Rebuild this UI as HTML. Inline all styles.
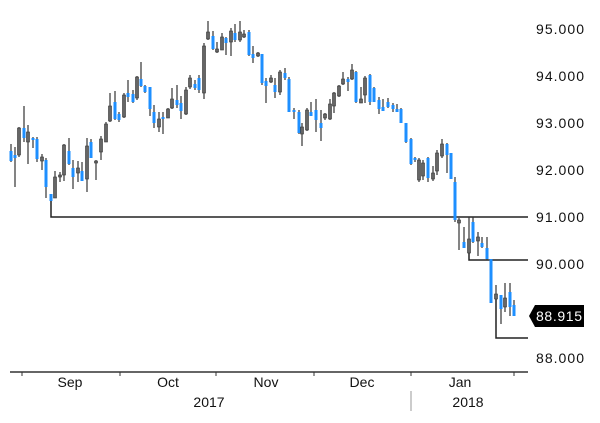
<!DOCTYPE html>
<html><head><style>
html,body{margin:0;padding:0;background:#fff;}
svg{display:block;font-family:"Liberation Sans",sans-serif;}
.w line{stroke:#333;stroke-width:1.2}
.g{fill:#666;stroke:#333;stroke-width:0.6}
.b{fill:#1e8fff}
</style></head><body>
<svg width="600" height="423" viewBox="0 0 600 423">
<g stroke="#222" stroke-width="1.5" fill="none">
<polyline points="51,201 51,217 528,217"/>
<polyline points="469,253 469,260 528,260"/>
<polyline points="496,299 496,338 528,338"/>
</g>
<g class="w">
<line x1="11" x2="11" y1="144" y2="162"/><rect class="b" x="9.5" y="151" width="3" height="10"/>
<line x1="15" x2="15" y1="147" y2="187"/><rect class="b" x="13.5" y="155" width="3" height="3"/>
<line x1="19" x2="19" y1="127" y2="157"/><rect class="g" x="17.5" y="128" width="3" height="27"/>
<line x1="24" x2="24" y1="106" y2="142"/><rect class="b" x="22.5" y="128" width="3" height="10"/>
<line x1="28" x2="28" y1="125" y2="164"/><rect class="g" x="26.5" y="132" width="3" height="10"/>
<line x1="33" x2="33" y1="137" y2="148"/><rect class="b" x="31.5" y="138" width="3" height="2"/>
<line x1="37" x2="37" y1="137" y2="162"/><rect class="b" x="35.5" y="139" width="3" height="20"/>
<line x1="42" x2="42" y1="154" y2="170"/><rect class="g" x="40.5" y="157" width="3" height="4"/>
<line x1="46" x2="46" y1="158" y2="198"/><rect class="b" x="44.5" y="160" width="3" height="27"/>
<line x1="51" x2="51" y1="194" y2="201"/><rect class="b" x="49.5" y="194" width="3" height="7"/>
<line x1="55" x2="55" y1="171" y2="198"/><rect class="g" x="53.5" y="177" width="3" height="21"/>
<line x1="60" x2="60" y1="172" y2="182"/><rect class="g" x="58.5" y="175" width="3" height="2"/>
<line x1="64" x2="64" y1="144" y2="181"/><rect class="g" x="62.5" y="145" width="3" height="30"/>
<line x1="69" x2="69" y1="138" y2="165"/><rect class="b" x="67.5" y="151" width="3" height="13"/>
<line x1="73" x2="73" y1="160" y2="189"/><rect class="b" x="71.5" y="168" width="3" height="9"/>
<line x1="78" x2="78" y1="161" y2="182"/><rect class="g" x="76.5" y="168" width="3" height="5"/>
<line x1="82" x2="82" y1="162" y2="181"/><rect class="b" x="80.5" y="171" width="3" height="10"/>
<line x1="87" x2="87" y1="138" y2="192"/><rect class="g" x="85.5" y="146" width="3" height="33"/>
<line x1="91" x2="91" y1="139" y2="158"/><rect class="b" x="89.5" y="142" width="3" height="16"/>
<line x1="96" x2="96" y1="160" y2="180"/><rect class="g" x="94.5" y="161" width="3" height="2"/>
<line x1="101" x2="101" y1="136" y2="160"/><rect class="g" x="99.5" y="139" width="3" height="13"/>
<line x1="106" x2="106" y1="122" y2="142"/><rect class="g" x="104.5" y="124" width="3" height="18"/>
<line x1="110" x2="110" y1="93" y2="122"/><rect class="g" x="108.5" y="106" width="3" height="15"/>
<line x1="115" x2="115" y1="91" y2="120"/><rect class="b" x="113.5" y="102" width="3" height="17"/>
<line x1="119" x2="119" y1="112" y2="122"/><rect class="b" x="117.5" y="114" width="3" height="6"/>
<line x1="124" x2="124" y1="93" y2="118"/><rect class="g" x="122.5" y="95" width="3" height="22"/>
<line x1="128" x2="128" y1="80" y2="102"/><rect class="b" x="126.5" y="93" width="3" height="4"/>
<line x1="133" x2="133" y1="90" y2="103"/><rect class="b" x="131.5" y="94" width="3" height="8"/>
<line x1="137" x2="137" y1="76" y2="100"/><rect class="g" x="135.5" y="77" width="3" height="21"/>
<line x1="141" x2="141" y1="62" y2="87"/><rect class="b" x="139.5" y="79" width="3" height="7"/>
<line x1="145" x2="145" y1="85" y2="93"/><rect class="b" x="143.5" y="86" width="3" height="6"/>
<line x1="150" x2="150" y1="87" y2="116"/><rect class="b" x="148.5" y="87" width="3" height="22"/>
<line x1="154" x2="154" y1="105" y2="128"/><rect class="b" x="152.5" y="112" width="3" height="11"/>
<line x1="159" x2="159" y1="112" y2="132"/><rect class="g" x="157.5" y="119" width="3" height="8"/>
<line x1="163" x2="163" y1="112" y2="134"/><rect class="b" x="161.5" y="117" width="3" height="2"/>
<line x1="168" x2="168" y1="108" y2="118"/><rect class="g" x="166.5" y="109" width="3" height="9"/>
<line x1="172" x2="172" y1="88" y2="109"/><rect class="g" x="170.5" y="99" width="3" height="9"/>
<line x1="177" x2="177" y1="85" y2="108"/><rect class="b" x="175.5" y="100" width="3" height="5"/>
<line x1="181" x2="181" y1="96" y2="119"/><rect class="b" x="179.5" y="103" width="3" height="8"/>
<line x1="186" x2="186" y1="87" y2="115"/><rect class="g" x="184.5" y="90" width="3" height="24"/>
<line x1="190" x2="190" y1="75" y2="89"/><rect class="g" x="188.5" y="78" width="3" height="9"/>
<line x1="195" x2="195" y1="80" y2="90"/><rect class="b" x="193.5" y="84" width="3" height="4"/>
<line x1="199" x2="199" y1="75" y2="93"/><rect class="b" x="197.5" y="78" width="3" height="12"/>
<line x1="204" x2="204" y1="43" y2="99"/><rect class="g" x="202.5" y="46" width="3" height="47"/>
<line x1="208" x2="208" y1="21" y2="40"/><rect class="g" x="206.5" y="32" width="3" height="7"/>
<line x1="213" x2="213" y1="31" y2="50"/><rect class="b" x="211.5" y="36" width="3" height="13"/>
<line x1="217" x2="217" y1="42" y2="53"/><rect class="g" x="215.5" y="49" width="3" height="3"/>
<line x1="222" x2="222" y1="33" y2="50"/><rect class="g" x="220.5" y="37" width="3" height="13"/>
<line x1="226" x2="226" y1="37" y2="55"/><rect class="b" x="224.5" y="38" width="3" height="5"/>
<line x1="231" x2="231" y1="28" y2="56"/><rect class="g" x="229.5" y="31" width="3" height="11"/>
<line x1="235" x2="235" y1="24" y2="42"/><rect class="b" x="233.5" y="33" width="3" height="7"/>
<line x1="240" x2="240" y1="21" y2="42"/><rect class="g" x="238.5" y="32" width="3" height="8"/>
<line x1="244" x2="244" y1="30" y2="38"/><rect class="g" x="242.5" y="34" width="3" height="3"/>
<line x1="249" x2="249" y1="30" y2="56"/><rect class="b" x="247.5" y="32" width="3" height="23"/>
<line x1="253" x2="253" y1="46" y2="63"/><rect class="b" x="251.5" y="54" width="3" height="4"/>
<line x1="258" x2="258" y1="52" y2="57"/><rect class="g" x="256.5" y="53" width="3" height="3"/>
<line x1="262" x2="262" y1="54" y2="85"/><rect class="b" x="260.5" y="54" width="3" height="29"/>
<line x1="266" x2="266" y1="78" y2="103"/><rect class="b" x="264.5" y="81" width="3" height="5"/>
<line x1="271" x2="271" y1="75" y2="83"/><rect class="g" x="269.5" y="78" width="3" height="4"/>
<line x1="275" x2="275" y1="78" y2="98"/><rect class="b" x="273.5" y="85" width="3" height="7"/>
<line x1="280" x2="280" y1="70" y2="95"/><rect class="g" x="278.5" y="72" width="3" height="20"/>
<line x1="285" x2="285" y1="68" y2="80"/><rect class="b" x="283.5" y="73" width="3" height="5"/>
<line x1="289" x2="289" y1="77" y2="112"/><rect class="b" x="287.5" y="79" width="3" height="33"/>
<line x1="294" x2="294" y1="108" y2="119"/><rect class="b" x="292.5" y="110" width="3" height="2"/>
<line x1="299" x2="299" y1="110" y2="134"/><rect class="b" x="297.5" y="112" width="3" height="21"/>
<line x1="302" x2="302" y1="123" y2="146"/><rect class="g" x="300.5" y="127" width="3" height="7"/>
<line x1="307" x2="307" y1="108" y2="131"/><rect class="g" x="305.5" y="110" width="3" height="20"/>
<line x1="311" x2="311" y1="102" y2="115"/><rect class="b" x="309.5" y="112" width="3" height="4"/>
<line x1="316" x2="316" y1="99" y2="132"/><rect class="b" x="314.5" y="110" width="3" height="10"/>
<line x1="321" x2="321" y1="110" y2="141"/><rect class="b" x="319.5" y="123" width="3" height="5"/>
<line x1="325" x2="325" y1="113" y2="120"/><rect class="g" x="323.5" y="114" width="3" height="4"/>
<line x1="330" x2="330" y1="99" y2="120"/><rect class="g" x="328.5" y="104" width="3" height="15"/>
<line x1="334" x2="334" y1="92" y2="113"/><rect class="g" x="332.5" y="93" width="3" height="13"/>
<line x1="339" x2="339" y1="85" y2="97"/><rect class="g" x="337.5" y="86" width="3" height="10"/>
<line x1="343" x2="343" y1="72" y2="85"/><rect class="g" x="341.5" y="79" width="3" height="5"/>
<line x1="348" x2="348" y1="77" y2="91"/><rect class="b" x="346.5" y="79" width="3" height="3"/>
<line x1="352" x2="352" y1="64" y2="80"/><rect class="g" x="350.5" y="70" width="3" height="9"/>
<line x1="356" x2="356" y1="71" y2="103"/><rect class="b" x="354.5" y="72" width="3" height="30"/>
<line x1="361" x2="361" y1="87" y2="103"/><rect class="g" x="359.5" y="99" width="3" height="4"/>
<line x1="365" x2="365" y1="76" y2="103"/><rect class="g" x="363.5" y="78" width="3" height="17"/>
<line x1="370" x2="370" y1="74" y2="105"/><rect class="b" x="368.5" y="75" width="3" height="27"/>
<line x1="374" x2="374" y1="87" y2="102"/><rect class="b" x="372.5" y="88" width="3" height="14"/>
<line x1="379" x2="379" y1="97" y2="114"/><rect class="b" x="377.5" y="100" width="3" height="9"/>
<line x1="383" x2="383" y1="99" y2="111"/><rect class="b" x="381.5" y="107" width="3" height="4"/>
<line x1="388" x2="388" y1="98" y2="108"/><rect class="b" x="386.5" y="102" width="3" height="5"/>
<line x1="393" x2="393" y1="103" y2="112"/><rect class="b" x="391.5" y="105" width="3" height="4"/>
<line x1="397" x2="397" y1="104" y2="112"/><rect class="b" x="395.5" y="109" width="3" height="3"/>
<line x1="401" x2="401" y1="108" y2="123"/><rect class="b" x="399.5" y="109" width="3" height="14"/>
<line x1="406" x2="406" y1="123" y2="143"/><rect class="b" x="404.5" y="123" width="3" height="19"/>
<line x1="411" x2="411" y1="138" y2="165"/><rect class="b" x="409.5" y="139" width="3" height="25"/>
<line x1="415" x2="415" y1="157" y2="162"/><rect class="b" x="413.5" y="158" width="3" height="2"/>
<line x1="419" x2="419" y1="158" y2="182"/><rect class="g" x="417.5" y="160" width="3" height="20"/>
<line x1="423" x2="423" y1="160" y2="180"/><rect class="g" x="421.5" y="163" width="3" height="13"/>
<line x1="428" x2="428" y1="157" y2="182"/><rect class="b" x="426.5" y="158" width="3" height="20"/>
<line x1="433" x2="433" y1="166" y2="181"/><rect class="g" x="431.5" y="173" width="3" height="6"/>
<line x1="437" x2="437" y1="150" y2="175"/><rect class="g" x="435.5" y="153" width="3" height="18"/>
<line x1="442" x2="442" y1="139" y2="158"/><rect class="g" x="440.5" y="144" width="3" height="12"/>
<line x1="447" x2="447" y1="143" y2="173"/><rect class="b" x="445.5" y="144" width="3" height="11"/>
<line x1="451" x2="451" y1="153" y2="179"/><rect class="b" x="449.5" y="153" width="3" height="26"/>
<line x1="455" x2="455" y1="177" y2="222"/><rect class="b" x="453.5" y="182" width="3" height="38"/>
<line x1="459" x2="459" y1="218" y2="250"/><rect class="g" x="457.5" y="220" width="3" height="3"/>
<line x1="464" x2="464" y1="227" y2="248"/><rect class="b" x="462.5" y="242" width="3" height="6"/>
<line x1="469" x2="469" y1="217" y2="259"/><rect class="g" x="467.5" y="239" width="3" height="14"/>
<line x1="473" x2="473" y1="217" y2="243"/><rect class="b" x="471.5" y="222" width="3" height="20"/>
<line x1="478" x2="478" y1="232" y2="256"/><rect class="g" x="476.5" y="237" width="3" height="4"/>
<line x1="482" x2="482" y1="237" y2="248"/><rect class="b" x="480.5" y="243" width="3" height="4"/>
<line x1="487" x2="487" y1="237" y2="260"/><rect class="b" x="485.5" y="248" width="3" height="11"/>
<line x1="491" x2="491" y1="259" y2="303"/><rect class="b" x="489.5" y="259" width="3" height="44"/>
<line x1="496" x2="496" y1="285" y2="328"/><rect class="g" x="494.5" y="294" width="3" height="5"/>
<line x1="501" x2="501" y1="295" y2="324"/><rect class="b" x="499.5" y="295" width="3" height="14"/>
<line x1="505" x2="505" y1="283" y2="312"/><rect class="g" x="503.5" y="298" width="3" height="9"/>
<line x1="510" x2="510" y1="283" y2="316"/><rect class="b" x="508.5" y="292" width="3" height="15"/>
<line x1="514" x2="514" y1="300" y2="316"/><rect class="b" x="512.5" y="305" width="3" height="11"/>
</g>
<line x1="10" y1="372" x2="528" y2="372" stroke="#333" stroke-width="1.5"/>
<g stroke="#333" stroke-width="1">
<line x1="22" y1="372" x2="22" y2="376"/><line x1="120" y1="372" x2="120" y2="376"/>
<line x1="216" y1="372" x2="216" y2="376"/><line x1="314" y1="372" x2="314" y2="376"/>
<line x1="411" y1="372" x2="411" y2="376"/><line x1="514" y1="372" x2="514" y2="376"/>
</g>
<line x1="411" y1="391" x2="411" y2="411" stroke="#bbb" stroke-width="1.5"/>
<g font-size="14" fill="#111" text-anchor="middle">
<text x="70" y="387">Sep</text><text x="168" y="387">Oct</text><text x="266" y="387">Nov</text>
<text x="362" y="387">Dec</text><text x="460" y="387">Jan</text>
<text x="209" y="407">2017</text><text x="468" y="407">2018</text>
</g>
<g font-size="14" fill="#111">
<text x="536" y="34" textLength="48">95.000</text><text x="536" y="81" textLength="48">94.000</text><text x="536" y="128" textLength="48">93.000</text>
<text x="536" y="175" textLength="48">92.000</text><text x="536" y="222" textLength="48">91.000</text><text x="536" y="269" textLength="48">90.000</text>
<text x="536" y="363" textLength="48">88.000</text>
</g>
<polygon points="529,316 535,305 584,305 584,327 535,327" fill="#000"/>
<text x="536" y="321" font-size="14" fill="#fff" textLength="46">88.915</text>
</svg>
</body></html>
